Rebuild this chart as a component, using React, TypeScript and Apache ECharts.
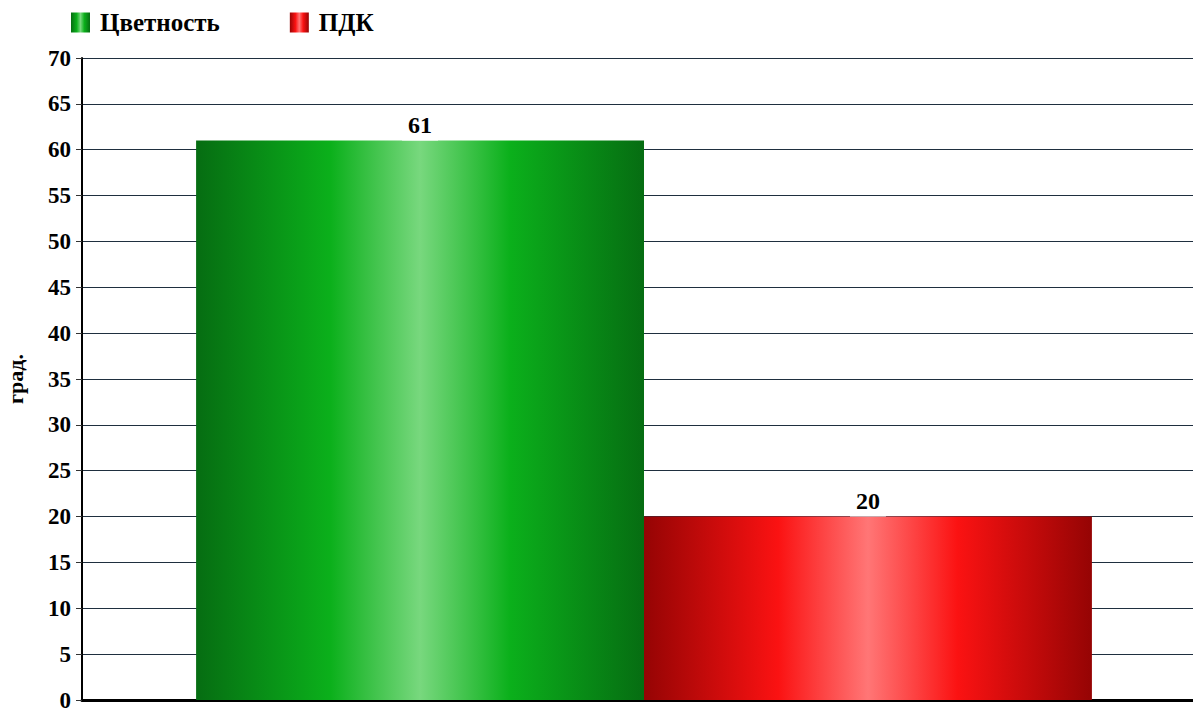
import React, { useEffect, useRef } from "react";
import * as echarts from "echarts";

const categories = [""];
const seriesNames = ["Цветность", "ПДК"];
const colorValues = [61];
const limitValues = [20];
const yTicks = { min: 0, max: 70, interval: 5 };

const serif = "'Liberation Serif', 'Times New Roman', serif";

function barGradient(edge: string, mid: string, light: string) {
  return new echarts.graphic.LinearGradient(0, 0, 1, 0, [
    { offset: 0, color: edge },
    { offset: 0.3, color: mid },
    { offset: 0.5, color: light },
    { offset: 0.7, color: mid },
    { offset: 1, color: edge },
  ]);
}

export default function App() {
  const ref = useRef<HTMLDivElement>(null);

  useEffect(() => {
    if (!ref.current) return;
    const chart = echarts.init(ref.current, null, { renderer: "svg" });
    const label = {
      show: true,
      position: "top" as const,
      distance: 0,
      color: "#000",
      fontFamily: serif,
      fontWeight: "bold" as const,
      fontSize: 24,
      backgroundColor: "#fff",
      padding: [2, 6, 4, 6],
    };
    chart.setOption({
      animation: false,
      backgroundColor: "#fff",
      legend: {
        left: 66,
        top: 5,
        itemWidth: 19,
        itemHeight: 20,
        itemGap: 70,
        icon: "rect",
        textStyle: {
          color: "#000",
          fontFamily: serif,
          fontWeight: "bold",
          fontSize: 25,
          padding: [0, 0, 0, 5],
        },
        data: seriesNames,
      },
      grid: {
        left: 82,
        top: 58,
        width: 1124,
        bottom: 9,
        containLabel: false,
        outerBoundsMode: "none",
      },
      xAxis: {
        type: "category",
        data: categories,
        axisLine: { lineStyle: { color: "#000", width: 3 } },
        axisTick: { show: false },
        axisLabel: { show: false },
      },
      yAxis: {
        type: "value",
        min: yTicks.min,
        max: yTicks.max,
        interval: yTicks.interval,
        name: "град.",
        nameLocation: "middle",
        nameGap: 56,
        nameTextStyle: {
          color: "#000",
          fontFamily: serif,
          fontWeight: "bold",
          fontSize: 22,
        },
        axisLine: { show: true, lineStyle: { color: "#000", width: 2 } },
        axisTick: { show: true, length: 6, lineStyle: { color: "#333", width: 1 } },
        axisLabel: {
          color: "#000",
          fontFamily: serif,
          fontWeight: "bold",
          fontSize: 23,
          margin: 11,
        },
        splitLine: { lineStyle: { color: "#1f2f3f", width: 1 } },
      },
      series: [
        {
          name: seriesNames[0],
          type: "bar",
          data: colorValues,
          barGap: "0%",
          barCategoryGap: "20.3%",
          itemStyle: { color: barGradient("#066d12", "#0bb01b", "#78d87e") },
          label,
        },
        {
          name: seriesNames[1],
          type: "bar",
          data: limitValues,
          itemStyle: { color: barGradient("#950404", "#fb1212", "#ff7676") },
          label,
        },
      ],
    });
    return () => chart.dispose();
  }, []);

  return (
    <div
      ref={ref}
      style={{ position: "fixed", left: 0, top: 0, width: 1193, height: 709 }}
    />
  );
}
